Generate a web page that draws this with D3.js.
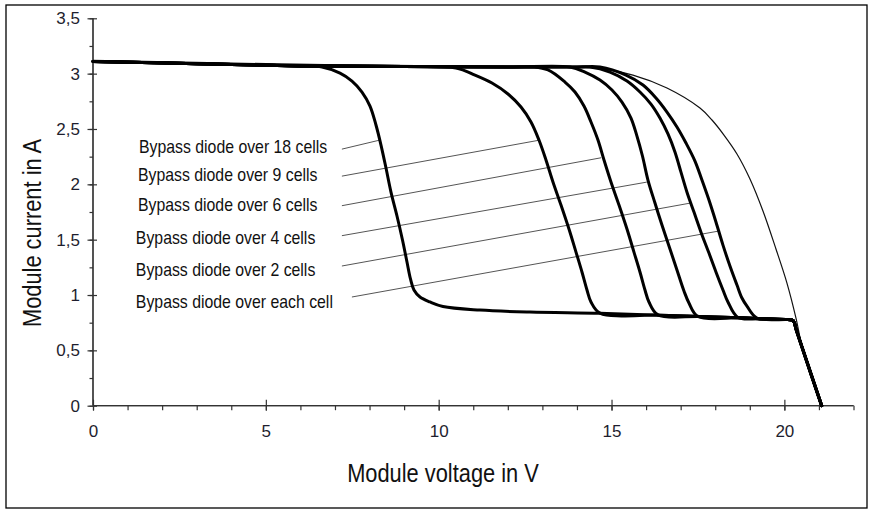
<!DOCTYPE html>
<html><head><meta charset="utf-8">
<script src="https://cdn.jsdelivr.net/npm/d3@7"></script>
<style>body{margin:0;background:#fff;} svg{display:block;}</style>
</head><body>
<svg id="chart" width="874" height="511"></svg>
<script>
// ---------- data ----------
const xMajorTicks = [0, 5, 10, 15, 20];
const xTickLabels = ["0", "5", "10", "15", "20"];
const yMajorTicks = [0, 0.5, 1, 1.5, 2, 2.5, 3, 3.5];
const yTickLabels = ["0", "0,5", "1", "1,5", "2", "2,5", "3", "3,5"];

// shared upper plateau (module voltage V, current A)
const headV = [0, 3, 6, 9, 12, 14, 15];
const headI = [3.11, 3.09, 3.07, 3.065, 3.06, 3.06, 3.055];
// shared lower plateau and final drop
const tailV = [12.64, 14.67, 16.4, 17.56, 18.72, 19.3, 20.1, 20.25, 20.35, 20.52, 21.08];
const tailI = [0.846, 0.835, 0.818, 0.806, 0.794, 0.786, 0.778, 0.77, 0.68, 0.52, 0];

// individual shaded curves
const v18 = [6.624, 7.145, 7.492, 7.781, 8.013, 8.186, 8.331, 8.476, 8.62, 8.794, 8.953, 9.083, 9.184, 9.285, 9.459, 9.748, 10.124, 11.195];
const i18 = [3.06, 3.005, 2.933, 2.834, 2.707, 2.536, 2.355, 2.147, 1.93, 1.714, 1.497, 1.298, 1.145, 1.045, 0.982, 0.937, 0.896, 0.864];
const v9  = [10.5, 11.05, 11.542, 12.005, 12.381, 12.67, 12.901, 13.104, 13.306, 13.538, 13.769, 13.972, 14.145, 14.29, 14.406, 14.666];
const i9  = [3.051, 2.987, 2.915, 2.816, 2.698, 2.563, 2.4, 2.22, 2.021, 1.813, 1.596, 1.388, 1.208, 1.045, 0.937, 0.837];
const v6  = [12.728, 13.162, 13.653, 13.943, 14.203, 14.406, 14.608, 14.782, 14.984, 15.216, 15.447, 15.649, 15.823, 15.968, 16.083, 16.344];
const i6  = [3.06, 3.033, 2.924, 2.834, 2.707, 2.563, 2.4, 2.22, 2.021, 1.813, 1.596, 1.388, 1.208, 1.045, 0.937, 0.82];
const v4  = [13.798, 14.232, 14.666, 15.013, 15.302, 15.563, 15.736, 15.895, 16.054, 16.257, 16.459, 16.691, 16.893, 17.096, 17.24, 17.501];
const i4  = [3.06, 3.014, 2.942, 2.852, 2.743, 2.599, 2.436, 2.256, 2.039, 1.831, 1.632, 1.416, 1.226, 1.036, 0.928, 0.806];
const v2  = [14.377, 14.955, 15.447, 15.823, 16.141, 16.401, 16.633, 16.835, 17.009, 17.183, 17.385, 17.588, 17.819, 18.021, 18.224, 18.368, 18.658];
const i2  = [3.06, 3.014, 2.933, 2.834, 2.725, 2.599, 2.455, 2.292, 2.11, 1.929, 1.749, 1.568, 1.379, 1.208, 1.045, 0.937, 0.797];
const v1  = [14.666, 15.418, 15.91, 16.286, 16.604, 16.893, 17.154, 17.414, 17.616, 17.819, 18.021, 18.224, 18.426, 18.629, 18.773, 18.918, 19.207];
const i1  = [3.06, 2.987, 2.897, 2.78, 2.653, 2.518, 2.373, 2.21, 2.039, 1.858, 1.66, 1.451, 1.262, 1.09, 0.973, 0.9, 0.792];

// unshaded reference curve (thin)
const refV = [0, 5, 10, 13.509, 14.666, 15.62, 16.604, 17.559, 17.906, 18.253, 18.629, 19.005, 19.381, 19.757, 20.075, 20.336, 20.524, 21.079];
const refI = [3.12, 3.09, 3.07, 3.057, 3.046, 2.987, 2.87, 2.689, 2.581, 2.445, 2.274, 2.048, 1.759, 1.416, 1.108, 0.792, 0.521, 0];

const seriesLabels = [
  "Bypass diode over 18 cells",
  "Bypass diode over 9 cells",
  "Bypass diode over 6 cells",
  "Bypass diode over 4 cells",
  "Bypass diode over 2 cells",
  "Bypass diode over each cell"
];
// pointer lines (data units)
const ptrStartV = [7.2, 7.2, 7.2, 7.2, 7.2, 7.49];
const ptrStartI = [2.318, 2.074, 1.807, 1.536, 1.262, 0.982];
const ptrEndV   = [8.30, 12.93, 14.70, 16.02, 17.27, 18.14];
const ptrEndI   = [2.40, 2.40, 2.24, 2.02, 1.83, 1.58];
// label anchor (data units)
const labelV = [1.33, 1.30, 1.30, 1.24, 1.24, 1.24];
const labelI = [2.283, 2.03, 1.758, 1.461, 1.172, 0.883];

// ---------- chart ----------
const svg = d3.select("#chart");
const x = d3.scaleLinear().domain([0, 22]).range([93, 853.5]);
const y = d3.scaleLinear().domain([0, 3.5]).range([405.7, 18.3]);

svg.append("rect").attr("x", 6).attr("y", 5).attr("width", 861).attr("height", 503)
  .attr("fill", "none").attr("stroke", "#000").attr("stroke-width", 1.3);

const axisColor = "#333";
const tickFont = "Liberation Sans, Arial, sans-serif";

// X axis
const xMinor = d3.range(0, 23, 1);
const gxMinor = svg.append("g").attr("transform", `translate(0,${y(0)})`)
  .call(d3.axisBottom(x).tickValues(xMinor).tickSize(4.5).tickFormat(""));
const gx = svg.append("g").attr("transform", `translate(0,${y(0)})`)
  .call(d3.axisBottom(x).tickValues(xMajorTicks).tickSize(5)
    .tickFormat((d, i) => xTickLabels[i]));
gx.selectAll(".tick line").attr("y1", -6).attr("y2", 5);
gx.selectAll(".tick text").attr("y", 19).attr("dy", "0.71em");
[gx, gxMinor].forEach(g => {
  g.selectAll("line, path").attr("stroke", axisColor).attr("stroke-width", 1.2);
  g.select(".domain").attr("d", `M${x(0)},0H${x(22)}`);
});

// Y axis
const yMinor = d3.range(0, 3.51, 0.25);
const gyMinor = svg.append("g").attr("transform", `translate(${x(0)},0)`)
  .call(d3.axisLeft(y).tickValues(yMinor).tickSize(3.5).tickFormat(""));
const gy = svg.append("g").attr("transform", `translate(${x(0)},0)`)
  .call(d3.axisLeft(y).tickValues(yMajorTicks).tickSize(5)
    .tickFormat((d, i) => yTickLabels[i]));
gy.selectAll(".tick line").attr("x1", 4).attr("x2", -5.5);
gy.selectAll(".tick text").attr("x", -13);
[gy, gyMinor].forEach(g => {
  g.selectAll("line, path").attr("stroke", axisColor).attr("stroke-width", 1.2);
  g.select(".domain").attr("d", `M0,${y(0)}V${y(3.5)}`);
});
svg.selectAll(".tick text").attr("font-family", tickFont).attr("font-size", 17)
  .attr("fill", "#1e1e2e");

// Axis titles
svg.append("text").attr("transform", `translate(443,482) scale(0.84,1)`)
  .attr("text-anchor", "middle").attr("font-family", tickFont).attr("font-size", 26)
  .attr("fill", "#111").text("Module voltage in V");
svg.append("text").attr("transform", `translate(41,233) rotate(-90) scale(0.84,1)`)
  .attr("text-anchor", "middle").attr("font-family", tickFont).attr("font-size", 26)
  .attr("fill", "#111").text("Module current in A");

// build curves
function buildCurve(vs, is) {
  const pts = [];
  headV.forEach((v, k) => { if (v < vs[0] - 0.3) pts.push([v, headI[k]]); });
  vs.forEach((v, k) => pts.push([v, is[k]]));
  tailV.forEach((v, k) => { if (v > vs[vs.length - 1] + 0.2) pts.push([v, tailI[k]]); });
  return pts;
}
const curves = [[v18, i18], [v9, i9], [v6, i6], [v4, i4], [v2, i2], [v1, i1]].map(c => buildCurve(c[0], c[1]));
const line = d3.line().x(d => x(d[0])).y(d => y(d[1])).curve(d3.curveCatmullRom.alpha(0.5));

// pointer lines and labels
const ptrG = svg.append("g");
seriesLabels.forEach((lab, k) => {
  ptrG.append("line")
    .attr("x1", x(ptrStartV[k])).attr("y1", y(ptrStartI[k]))
    .attr("x2", x(ptrEndV[k])).attr("y2", y(ptrEndI[k]))
    .attr("stroke", "#555").attr("stroke-width", 1);
  svg.append("text")
    .attr("transform", `translate(${x(labelV[k])},${y(labelI[k])}) scale(0.88,1)`)
    .attr("font-family", tickFont).attr("font-size", 18).attr("fill", "#111")
    .text(lab);
});

// reference curve
svg.append("path").datum(refV.map((v, k) => [v, refI[k]]))
  .attr("d", line).attr("fill", "none").attr("stroke", "#111").attr("stroke-width", 1.2);

// shaded curves
svg.append("g").selectAll("path").data(curves).join("path")
  .attr("d", line).attr("fill", "none").attr("stroke", "#000")
  .attr("stroke-width", 3).attr("stroke-linejoin", "round").attr("stroke-linecap", "round");
</script>
</body></html>
